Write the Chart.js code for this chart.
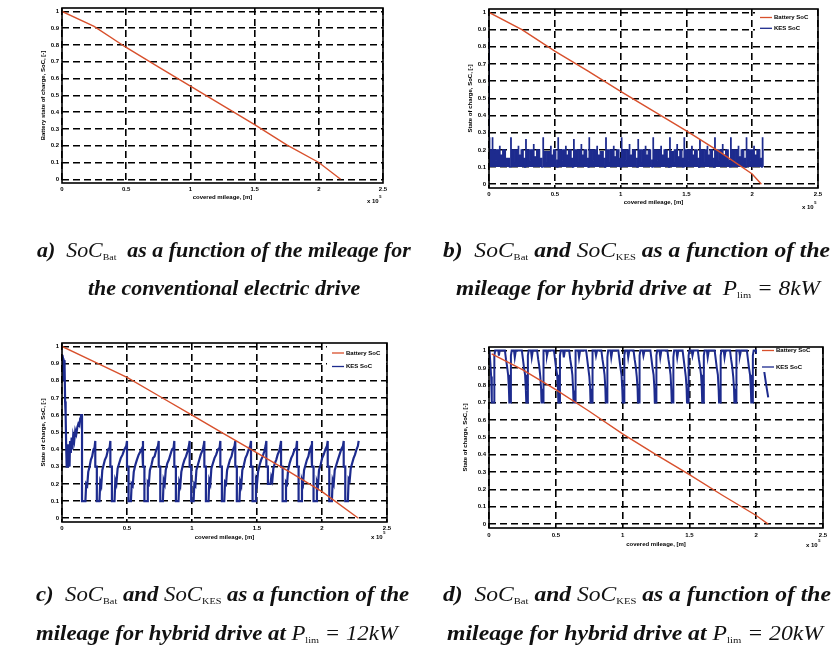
<!DOCTYPE html>
<html>
<head>
<meta charset="utf-8">
<script src="https://cdn.jsdelivr.net/npm/chart.js@4.4.0/dist/chart.umd.min.js"></script>
<style>
  html, body { margin: 0; padding: 0; background: #fff; }
  #page { position: relative; width: 835px; height: 648px; overflow: hidden; }
  canvas.plot { position: absolute; left: 0; top: 0; }
  .cap { position: absolute; white-space: nowrap; font-family: "Liberation Serif", "Times New Roman", serif;
         font-style: italic; font-weight: bold; font-size: 20px; line-height: 20px; height: 20px;
         transform-origin: 0 50%; color: #111; }
  .cap .m { font-weight: normal; }
  .cap sub { font-size: 9px; font-weight: normal; font-style: normal; vertical-align: -3px; }
</style>
</head>
<body>
<div id="page">
  <canvas id="cA" class="plot" width="835" height="648"></canvas>
  <canvas id="cB" class="plot" width="835" height="648"></canvas>
  <canvas id="cC" class="plot" width="835" height="648"></canvas>
  <canvas id="cD" class="plot" width="835" height="648"></canvas>

  <div class="cap" data-l="37" data-r="411" data-y="250">a)&nbsp; <span class="m">SoC</span><sub>Bat</sub>&nbsp; as a function of the mileage for</div>
  <div class="cap" data-l="88" data-r="360" data-y="288">the conventional electric drive</div>
  <div class="cap" data-l="443" data-r="830" data-y="250">b)&nbsp; <span class="m">SoC</span><sub>Bat</sub> and <span class="m">SoC</span><sub>KES</sub> as a function of the</div>
  <div class="cap" data-l="456" data-r="820" data-y="288">mileage for hybrid drive at&nbsp; <span class="m">P</span><sub>lim</sub> <span class="m">= 8kW</span></div>
  <div class="cap" data-l="36" data-r="409" data-y="594">c)&nbsp; <span class="m">SoC</span><sub>Bat</sub> and <span class="m">SoC</span><sub>KES</sub> as a function of the</div>
  <div class="cap" data-l="36" data-r="398" data-y="633">mileage for hybrid drive at <span class="m">P</span><sub>lim</sub> <span class="m">= 12kW</span></div>
  <div class="cap" data-l="443" data-r="831" data-y="594">d)&nbsp; <span class="m">SoC</span><sub>Bat</sub> and <span class="m">SoC</span><sub>KES</sub> as a function of the</div>
  <div class="cap" data-l="447" data-r="823" data-y="633">mileage for hybrid drive at <span class="m">P</span><sub>lim</sub> <span class="m">= 20kW</span></div>
</div>

<script>
// axis ticks
const xTickValues = [0, 0.5, 1, 1.5, 2, 2.5];
const xTickLabels = ['0', '0.5', '1', '1.5', '2', '2.5'];
const yTickValues = [0, 0.1, 0.2, 0.3, 0.4, 0.5, 0.6, 0.7, 0.8, 0.9, 1];
const yTickLabels = ['0', '0.1', '0.2', '0.3', '0.4', '0.5', '0.6', '0.7', '0.8', '0.9', '1'];

// a) battery only
const batA_x = [0, 0.25, 0.5, 0.75, 1, 1.25, 1.5, 1.75, 2, 2.17];
const batA_y = [1, 0.91, 0.785, 0.67, 0.555, 0.44, 0.325, 0.205, 0.1, 0];

// b) Plim = 8 kW
const batB_x = [0, 0.25, 0.5, 0.75, 1, 1.25, 1.5, 1.75, 2, 2.07];
const batB_y = [1, 0.9, 0.775, 0.66, 0.54, 0.425, 0.31, 0.19, 0.06, 0];
const kesB_x = [0, 0.003, 0.006, 0.025, 0.029, 0.05, 0.056, 0.08, 0.084, 0.104, 0.125, 0.155,
  0.165, 0.169, 0.195, 0.201, 0.222, 0.226, 0.244, 0.26, 0.27,
  0.279, 0.283, 0.31, 0.316, 0.338, 0.342, 0.362, 0.385, 0.4,
  0.41, 0.414, 0.44, 0.446, 0.468, 0.472, 0.49, 0.508, 0.516,
  0.524, 0.528, 0.555, 0.561, 0.582, 0.586, 0.604, 0.624, 0.635,
  0.643, 0.647, 0.673, 0.679, 0.7, 0.704, 0.722, 0.742, 0.752,
  0.76, 0.764, 0.79, 0.796, 0.82, 0.824, 0.845, 0.868, 0.879,
  0.887, 0.891, 0.918, 0.924, 0.946, 0.95, 0.968, 0.988, 0.998,
  1.006, 1.01, 1.036, 1.042, 1.066, 1.07, 1.09, 1.112, 1.124,
  1.132, 1.136, 1.162, 1.168, 1.188, 1.192, 1.21, 1.228, 1.238,
  1.246, 1.25, 1.277, 1.283, 1.306, 1.31, 1.33, 1.354, 1.365,
  1.373, 1.377, 1.402, 1.408, 1.428, 1.432, 1.45, 1.466, 1.475,
  1.482, 1.486, 1.512, 1.518, 1.54, 1.544, 1.562, 1.582, 1.593,
  1.601, 1.605, 1.63, 1.636, 1.658, 1.662, 1.68, 1.698, 1.707,
  1.715, 1.719, 1.746, 1.752, 1.774, 1.778, 1.798, 1.818, 1.828,
  1.836, 1.84, 1.866, 1.872, 1.894, 1.898, 1.916, 1.936, 1.947,
  1.955, 1.959, 1.985, 1.991, 2.012, 2.016, 2.036, 2.058, 2.07,
  2.077, 2.081, 2.083];
const kesB_y = [0.85, 0.27, 0.2, 0.27, 0.2, 0.14, 0.2, 0.22, 0.17, 0.2, 0.15, 0.1,
  0.27, 0.2, 0.13, 0.2, 0.22, 0.17, 0.2, 0.15, 0.1,
  0.26, 0.2, 0.14, 0.2, 0.23, 0.16, 0.2, 0.15, 0.1,
  0.27, 0.19, 0.13, 0.19, 0.22, 0.17, 0.2, 0.14, 0.1,
  0.27, 0.2, 0.14, 0.2, 0.22, 0.17, 0.2, 0.15, 0.1,
  0.26, 0.2, 0.13, 0.2, 0.23, 0.17, 0.2, 0.15, 0.1,
  0.27, 0.2, 0.14, 0.2, 0.22, 0.17, 0.19, 0.15, 0.1,
  0.27, 0.2, 0.13, 0.2, 0.22, 0.16, 0.2, 0.15, 0.1,
  0.27, 0.2, 0.14, 0.2, 0.23, 0.17, 0.2, 0.15, 0.1,
  0.26, 0.2, 0.13, 0.2, 0.22, 0.17, 0.2, 0.14, 0.1,
  0.27, 0.2, 0.14, 0.2, 0.22, 0.17, 0.2, 0.15, 0.1,
  0.27, 0.19, 0.13, 0.2, 0.23, 0.16, 0.2, 0.15, 0.1,
  0.27, 0.2, 0.14, 0.2, 0.22, 0.17, 0.2, 0.15, 0.1,
  0.26, 0.2, 0.13, 0.2, 0.22, 0.17, 0.2, 0.15, 0.1,
  0.27, 0.2, 0.14, 0.2, 0.23, 0.17, 0.2, 0.14, 0.1,
  0.27, 0.2, 0.13, 0.2, 0.22, 0.16, 0.2, 0.15, 0.1,
  0.27, 0.2, 0.14, 0.2, 0.22, 0.17, 0.2, 0.15, 0.1,
  0.27, 0.2, 0.1];

// c) Plim = 12 kW
const batC_x = [0, 0.25, 0.5, 0.75, 1, 1.25, 1.5, 1.75, 2, 2.28];
const batC_y = [1, 0.91, 0.82, 0.71, 0.6, 0.49, 0.38, 0.27, 0.155, 0];
const kesC_x = [0, 0.003, 0.008, 0.012, 0.016, 0.02, 0.024, 0.028, 0.032, 0.036, 0.042, 0.046, 0.052,
  0.058, 0.062, 0.068, 0.074, 0.08, 0.086, 0.094, 0.102, 0.11, 0.118, 0.126, 0.134, 0.14, 0.146,
  0.154, 0.154, 0.18, 0.186, 0.194, 0.202, 0.212, 0.222, 0.232, 0.242, 0.25, 0.256,
  0.256, 0.268, 0.268, 0.288, 0.294, 0.302, 0.31, 0.32, 0.33, 0.342, 0.354, 0.366, 0.372,
  0.372, 0.384, 0.384, 0.404, 0.41, 0.418, 0.428, 0.44, 0.452, 0.466, 0.48, 0.494, 0.5,
  0.5, 0.512, 0.512, 0.53, 0.536, 0.544, 0.552, 0.564, 0.576, 0.59, 0.604, 0.617, 0.623,
  0.623, 0.634, 0.634, 0.654, 0.66, 0.668, 0.676, 0.688, 0.7, 0.712, 0.726, 0.738, 0.744,
  0.744, 0.756, 0.756, 0.776, 0.782, 0.79, 0.798, 0.81, 0.822, 0.834, 0.846, 0.858, 0.864,
  0.864, 0.876, 0.876, 0.896, 0.902, 0.91, 0.918, 0.93, 0.942, 0.954, 0.966, 0.976, 0.982,
  0.982, 0.994, 0.994, 1.012, 1.018, 1.026, 1.034, 1.045, 1.056, 1.067, 1.078, 1.089, 1.095,
  1.095, 1.107, 1.107, 1.127, 1.133, 1.141, 1.149, 1.161, 1.173, 1.186, 1.199, 1.212, 1.218,
  1.218, 1.23, 1.23, 1.248, 1.254, 1.262, 1.27, 1.281, 1.292, 1.304, 1.316, 1.327, 1.333,
  1.333, 1.345, 1.345, 1.365, 1.371, 1.379, 1.387, 1.399, 1.411, 1.423, 1.436, 1.448, 1.454,
  1.454, 1.466, 1.466, 1.486, 1.492, 1.5, 1.508, 1.52, 1.532, 1.544, 1.556, 1.566, 1.572,
  1.572, 1.584, 1.584, 1.604, 1.61, 1.618, 1.626, 1.637, 1.648, 1.659, 1.67, 1.679, 1.685,
  1.685, 1.697, 1.697, 1.717, 1.723, 1.731, 1.739, 1.751, 1.763, 1.776, 1.789, 1.802, 1.808,
  1.808, 1.82, 1.82, 1.84, 1.846, 1.854, 1.862, 1.873, 1.884, 1.895, 1.906, 1.917, 1.923,
  1.923, 1.935, 1.935, 1.955, 1.961, 1.969, 1.977, 1.989, 2.001, 2.013, 2.026, 2.038, 2.044,
  2.044, 2.056, 2.056, 2.076, 2.082, 2.09, 2.098, 2.11, 2.122, 2.135, 2.148, 2.161, 2.167,
  2.167, 2.179, 2.179, 2.199, 2.205, 2.213, 2.221, 2.232, 2.243, 2.254, 2.265, 2.276, 2.282];
const kesC_y = [0.86, 0.95, 0.93, 0.8, 0.92, 0.88, 0.68, 0.6, 0.42, 0.3, 0.3, 0.43, 0.36,
  0.3, 0.45, 0.38, 0.47, 0.4, 0.48, 0.45, 0.51, 0.49, 0.53, 0.55, 0.54, 0.58, 0.6,
  0.6, 0.1, 0.1, 0.2, 0.19, 0.27, 0.3, 0.34, 0.36, 0.4, 0.41, 0.45,
  0.3, 0.3, 0.1, 0.1, 0.21, 0.19, 0.28, 0.31, 0.34, 0.36, 0.4, 0.41, 0.45,
  0.3, 0.3, 0.1, 0.1, 0.22, 0.2, 0.29, 0.32, 0.35, 0.37, 0.4, 0.42, 0.45,
  0.3, 0.3, 0.1, 0.1, 0.2, 0.19, 0.27, 0.31, 0.34, 0.37, 0.39, 0.41, 0.45,
  0.3, 0.3, 0.1, 0.1, 0.21, 0.2, 0.28, 0.31, 0.35, 0.36, 0.4, 0.42, 0.45,
  0.3, 0.3, 0.1, 0.1, 0.22, 0.2, 0.28, 0.32, 0.34, 0.37, 0.4, 0.41, 0.45,
  0.3, 0.3, 0.1, 0.1, 0.21, 0.19, 0.27, 0.31, 0.34, 0.36, 0.39, 0.42, 0.45,
  0.3, 0.3, 0.1, 0.1, 0.2, 0.19, 0.28, 0.31, 0.34, 0.37, 0.39, 0.42, 0.45,
  0.3, 0.3, 0.1, 0.1, 0.22, 0.2, 0.29, 0.32, 0.35, 0.37, 0.4, 0.41, 0.45,
  0.3, 0.3, 0.1, 0.1, 0.21, 0.2, 0.28, 0.31, 0.34, 0.36, 0.4, 0.42, 0.45,
  0.3, 0.3, 0.1, 0.1, 0.21, 0.19, 0.28, 0.31, 0.35, 0.37, 0.4, 0.42, 0.45,
  0.3, 0.3, 0.1, 0.1, 0.22, 0.2, 0.27, 0.31, 0.34, 0.36, 0.39, 0.42, 0.45,
  0.3, 0.3, 0.2, 0.2, 0.24, 0.22, 0.29, 0.32, 0.34, 0.37, 0.39, 0.42, 0.45,
  0.3, 0.3, 0.1, 0.1, 0.21, 0.2, 0.28, 0.32, 0.35, 0.37, 0.4, 0.41, 0.45,
  0.3, 0.3, 0.1, 0.1, 0.22, 0.2, 0.28, 0.31, 0.34, 0.36, 0.4, 0.42, 0.45,
  0.3, 0.3, 0.1, 0.1, 0.21, 0.19, 0.28, 0.31, 0.35, 0.37, 0.4, 0.42, 0.45,
  0.3, 0.3, 0.1, 0.1, 0.22, 0.2, 0.28, 0.31, 0.34, 0.37, 0.4, 0.42, 0.45,
  0.3, 0.3, 0.1, 0.1, 0.23, 0.22, 0.29, 0.32, 0.35, 0.37, 0.4, 0.42, 0.45];

// d) Plim = 20 kW
const batD_x = [0.02, 0.25, 0.5, 0.75, 1, 1.25, 1.5, 1.75, 2, 2.09];
const batD_y = [0.98, 0.89, 0.775, 0.65, 0.52, 0.4, 0.285, 0.165, 0.05, 0];
const kesD_x = [0, 0.004, 0.01, 0.016, 0.02, 0.022, 0.04, 0.04, 0.046, 0.07, 0.074, 0.08,
  0.119, 0.127, 0.135, 0.143, 0.149, 0.152, 0.164, 0.164, 0.17, 0.187, 0.193, 0.201,
  0.246, 0.254, 0.262, 0.27, 0.276, 0.279, 0.291, 0.291, 0.297, 0.314, 0.32, 0.328,
  0.36, 0.368, 0.376, 0.384, 0.39, 0.393, 0.405, 0.405, 0.411, 0.428, 0.434, 0.442,
  0.486, 0.494, 0.502, 0.51, 0.516, 0.519, 0.531, 0.531, 0.537, 0.554, 0.56, 0.568,
  0.6, 0.608, 0.616, 0.624, 0.63, 0.633, 0.645, 0.645, 0.651, 0.668, 0.674, 0.682,
  0.727, 0.735, 0.743, 0.751, 0.757, 0.76, 0.772, 0.772, 0.778, 0.795, 0.801, 0.809,
  0.841, 0.849, 0.857, 0.865, 0.871, 0.874, 0.886, 0.886, 0.892, 0.909, 0.915, 0.923,
  0.968, 0.976, 0.984, 0.992, 0.998, 1.001, 1.013, 1.013, 1.019, 1.036, 1.042, 1.05,
  1.082, 1.09, 1.098, 1.106, 1.112, 1.115, 1.127, 1.127, 1.133, 1.15, 1.156, 1.164,
  1.208, 1.216, 1.224, 1.232, 1.238, 1.241, 1.253, 1.253, 1.259, 1.276, 1.282, 1.29,
  1.335, 1.343, 1.351, 1.359, 1.365, 1.368, 1.38, 1.38, 1.386, 1.403, 1.409, 1.417,
  1.449, 1.457, 1.465, 1.473, 1.479, 1.482, 1.494, 1.494, 1.5, 1.517, 1.523, 1.531,
  1.563, 1.571, 1.579, 1.587, 1.593, 1.596, 1.608, 1.608, 1.614, 1.631, 1.637, 1.645,
  1.689, 1.697, 1.705, 1.713, 1.719, 1.722, 1.734, 1.734, 1.74, 1.757, 1.763, 1.771,
  1.804, 1.812, 1.82, 1.828, 1.834, 1.837, 1.849, 1.849, 1.855, 1.872, 1.878, 1.886,
  1.93, 1.938, 1.946, 1.954, 1.96, 1.963, 1.975, 1.975, 1.981, 2.0, 2.004,
  2.02, 2.05, 2.06, 2.075, 2.09];
const kesD_y = [0.97, 1, 0.93, 0.85, 0.76, 0.7, 0.7, 0.97, 1, 1, 0.97, 1,
  1, 0.95, 0.91, 0.86, 0.78, 0.7, 0.7, 0.97, 1, 1, 0.96, 1,
  1, 0.95, 0.9, 0.86, 0.77, 0.7, 0.7, 0.97, 1, 1, 0.96, 1,
  1, 0.95, 0.91, 0.85, 0.78, 0.7, 0.7, 0.96, 1, 1, 0.97, 1,
  1, 0.95, 0.9, 0.86, 0.78, 0.7, 0.7, 0.97, 1, 1, 0.96, 1,
  1, 0.95, 0.91, 0.86, 0.77, 0.7, 0.7, 0.97, 1, 1, 0.96, 1,
  1, 0.95, 0.9, 0.85, 0.78, 0.7, 0.7, 0.97, 1, 1, 0.97, 1,
  1, 0.95, 0.91, 0.86, 0.78, 0.7, 0.7, 0.96, 1, 1, 0.96, 1,
  1, 0.95, 0.9, 0.86, 0.77, 0.7, 0.7, 0.97, 1, 1, 0.96, 1,
  1, 0.95, 0.91, 0.85, 0.78, 0.7, 0.7, 0.97, 1, 1, 0.97, 1,
  1, 0.95, 0.9, 0.86, 0.78, 0.7, 0.7, 0.97, 1, 1, 0.96, 1,
  1, 0.95, 0.91, 0.86, 0.77, 0.7, 0.7, 0.96, 1, 1, 0.96, 1,
  1, 0.95, 0.9, 0.85, 0.78, 0.7, 0.7, 0.97, 1, 1, 0.97, 1,
  1, 0.95, 0.91, 0.86, 0.78, 0.7, 0.7, 0.97, 1, 1, 0.96, 1,
  1, 0.95, 0.9, 0.86, 0.77, 0.7, 0.7, 0.97, 1, 1, 0.96, 1,
  1, 0.95, 0.91, 0.85, 0.78, 0.7, 0.7, 0.97, 1, 1, 0.97, 1,
  1, 0.95, 0.9, 0.86, 0.78, 0.7, 0.7, 0.97, 1, 1, 0.98,
  null, 0.93, 0.88, 0.8, 0.73];

const RED = '#d8502c';
const BLUE = '#1d2b8e';
const FONT = '"Liberation Sans", Arial, sans-serif';

function pts(xs, ys) {
  return xs.map((x, i) => ({ x: x, y: ys[i] }));
}

// frame, axis titles, exponent and in-plot legend
const framePlugin = {
  id: 'frame',
  afterDatasetsDraw(chart, args, o) {
    const ctx = chart.ctx;
    const a = chart.chartArea;
    ctx.save();
    if (o.legend) {
      const L = o.legend;
      ctx.fillStyle = '#fff';
      ctx.fillRect(L.x, L.y, L.w, L.h);
      ctx.font = 'bold 6px ' + FONT;
      ctx.textBaseline = 'middle';
      ctx.textAlign = 'left';
      L.rows.forEach((ry, i) => {
        const ds = chart.data.datasets[i];
        ctx.strokeStyle = ds.borderColor;
        ctx.lineWidth = 1.3;
        ctx.beginPath();
        ctx.moveTo(L.x + 5, ry);
        ctx.lineTo(L.x + 17, ry);
        ctx.stroke();
        ctx.fillStyle = '#000';
        ctx.fillText(ds.label, L.x + 19, ry);
      });
    }
    ctx.strokeStyle = '#000';
    ctx.lineWidth = 1.6;
    ctx.strokeRect(a.left, a.top, a.right - a.left, a.bottom - a.top);

    ctx.fillStyle = '#000';
    ctx.font = 'bold 6px ' + FONT;
    ctx.textAlign = 'center';
    ctx.textBaseline = 'middle';
    ctx.fillText(o.xTitle, (a.left + a.right) / 2, o.xTitleY);
    ctx.save();
    ctx.translate(o.yTitleX, (a.top + a.bottom) / 2);
    ctx.rotate(-Math.PI / 2);
    ctx.fillText(o.yTitle, 0, 0);
    ctx.restore();

    ctx.textAlign = 'left';
    ctx.fillText('x 10', o.exp[0], o.exp[1]);
    const w = ctx.measureText('x 10').width;
    ctx.font = 'bold 4px ' + FONT;
    ctx.fillText('5', o.exp[0] + w + 0.5, o.exp[1] - 4);
    ctx.restore();
  }
};

function makeChart(id, box, datasets, extra) {
  const YW = 30, XH = 20;
  return new Chart(document.getElementById(id), {
    type: 'line',
    data: { datasets: datasets },
    plugins: [framePlugin],
    options: {
      responsive: false,
      animation: false,
      events: [],
      layout: { padding: { left: box.l - YW, top: box.t, right: 835 - box.r, bottom: 648 - box.b - XH } },
      elements: { point: { radius: 0 }, line: { tension: 0 } },
      plugins: {
        legend: { display: false },
        tooltip: { enabled: false },
        frame: extra
      },
      scales: {
        x: {
          type: 'linear', min: 0, max: 2.5,
          afterFit: s => { s.height = XH; },
          afterBuildTicks: s => { s.ticks = xTickValues.map(v => ({ value: v })); },
          grid: { color: '#000', lineWidth: 1.6, drawTicks: false },
          border: { display: false, dash: [7, 4] },
          ticks: { autoSkip: false, maxRotation: 0, padding: extra.xPad, color: '#000',
                   font: { family: FONT, size: 6, weight: 'bold' },
                   callback: (v, i) => xTickLabels[i] }
        },
        y: {
          type: 'linear', min: -0.022, max: 1.02,
          afterFit: s => { s.width = YW; },
          afterBuildTicks: s => { s.ticks = yTickValues.map(v => ({ value: v })); },
          grid: { color: '#000', lineWidth: 1.6, drawTicks: false },
          border: { display: false, dash: [7, 4] },
          ticks: { autoSkip: false, padding: 3, color: '#000',
                   font: { family: FONT, size: 6, weight: 'bold' },
                   callback: (v, i) => yTickLabels[i] }
        }
      }
    }
  });
}

function battery(xs, ys) {
  return { label: 'Battery SoC', data: pts(xs, ys), borderColor: RED, borderWidth: 1.4, fill: false };
}

makeChart('cA', { l: 62, t: 8, r: 383, b: 183 },
  [battery(batA_x, batA_y)],
  { xTitle: 'covered mileage, [m]', xTitleY: 197, yTitle: 'Battery state of charge, SoC, [-]', yTitleX: 43,
    exp: [367, 201], xPad: 3 });

makeChart('cB', { l: 489, t: 9, r: 818, b: 188 },
  [battery(batB_x, batB_y),
   { label: 'KES SoC', data: pts(kesB_x, kesB_y), borderColor: BLUE, backgroundColor: BLUE,
     borderWidth: 1.2, stepped: true, fill: { value: 0.1 } }],
  { xTitle: 'covered mileage, [m]', xTitleY: 202, yTitle: 'State of charge, SoC, [-]', yTitleX: 470,
    exp: [802, 207], xPad: 3,
    legend: { x: 755, y: 10, w: 62, h: 24, rows: [17.5, 28.3] } });

makeChart('cC', { l: 62, t: 343, r: 387, b: 522 },
  [battery(batC_x, batC_y),
   { label: 'KES SoC', data: pts(kesC_x, kesC_y), borderColor: BLUE, borderWidth: 2.2, fill: false }],
  { xTitle: 'covered mileage, [m]', xTitleY: 537, yTitle: 'State of charge, SoC, [-]', yTitleX: 43,
    exp: [371, 537], xPad: 3,
    legend: { x: 327, y: 344, w: 59, h: 28, rows: [353, 366.5] } });

makeChart('cD', { l: 489, t: 347, r: 823, b: 528 },
  [battery(batD_x, batD_y),
   { label: 'KES SoC', data: pts(kesD_x, kesD_y), borderColor: BLUE, borderWidth: 2, fill: false }],
  { xTitle: 'covered mileage, [m]', xTitleY: 544, yTitle: 'State of charge, SoC, [-]', yTitleX: 465,
    exp: [806, 545], xPad: 4,
    legend: { x: 757, y: 348, w: 65, h: 24, rows: [350.5, 367] } });

// fit caption lines to their measured extents
document.querySelectorAll('.cap').forEach(el => {
  const l = +el.dataset.l, r = +el.dataset.r, y = +el.dataset.y;
  el.style.left = l + 'px';
  el.style.top = (y - 10) + 'px';
  const w = el.getBoundingClientRect().width;
  el.style.transform = 'scaleX(' + ((r - l) / w).toFixed(3) + ')';
});
</script>
</body>
</html>
